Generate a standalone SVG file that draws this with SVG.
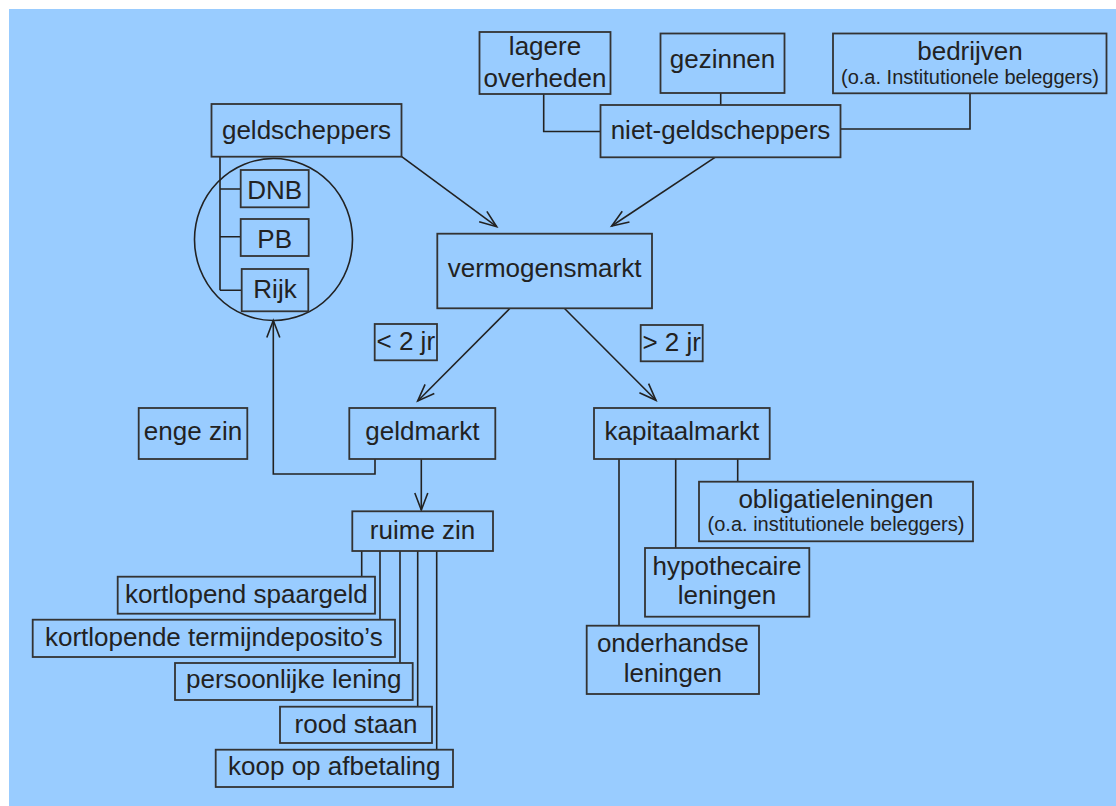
<svg xmlns="http://www.w3.org/2000/svg" width="1116" height="806" viewBox="0 0 1116 806">
<style>
.box{fill:#99CCFF;stroke:#333;stroke-width:1.8}
.t{font-family:"Liberation Sans",Arial,sans-serif;font-size:26px;fill:#222;text-anchor:middle}
.s{font-size:20px}
.c{fill:none;stroke:#222;stroke-width:1.6}
</style>
<defs>
<marker id="ah" markerUnits="userSpaceOnUse" markerWidth="22" markerHeight="18" viewBox="-19 -9 22 18" refX="0" refY="0" orient="auto">
<path d="M-17,-6.5 L0,0 L-17,6.5" fill="none" stroke="#222" stroke-width="1.6"/>
</marker>
</defs>
<rect x="9" y="9" width="1107" height="797" fill="#99CCFF"/>
<g id="connectors">
<path class="c" d="M543.7,94 V131.5 H600.5"/>
<path class="c" d="M720.7,93 V105"/>
<path class="c" d="M970,93.3 V129 H840.5"/>
<path class="c" d="M220,156.7 V290.3 M220,189 H240.7 M220,236.7 H240.7 M220,290.3 H241.7"/>
<path class="c" d="M401.7,156.7 L496.7,226.7" marker-end="url(#ah)"/>
<path class="c" d="M715,157.3 L611.7,226" marker-end="url(#ah)"/>
<path class="c" d="M510,308.3 L417.7,401" marker-end="url(#ah)"/>
<path class="c" d="M564.3,308.3 L656,400.3" marker-end="url(#ah)"/>
<path class="c" d="M375,459 V474 H273.3 V320.5" marker-end="url(#ah)"/>
<path class="c" d="M421.3,459 V510" marker-end="url(#ah)"/>
<path class="c" d="M361.7,551 V576.7 M380,551 V619.7 M400,551 V663 M417.7,551 V706.7 M436.7,551 V749.7"/>
<path class="c" d="M619,459 V625.7 M675.7,459 V548 M737.7,459 V481.7"/>
</g>
<g id="lagere-overheden"><rect class="box" x="479.5" y="32" width="131" height="62"/><text class="t" x="545" y="54.5">lagere</text><text class="t" x="545" y="86.5">overheden</text></g>
<g id="gezinnen"><rect class="box" x="660.5" y="33.5" width="124" height="59.5"/><text class="t" x="722.5" y="68">gezinnen</text></g>
<g id="bedrijven"><rect class="box" x="833" y="33.5" width="273.5" height="59.8"/><text class="t" x="970" y="59.5">bedrijven</text><text class="t s" x="970" y="83.5">(o.a. Institutionele beleggers)</text></g>
<g id="niet-geldscheppers"><rect class="box" x="600.5" y="105" width="240" height="52.3"/><text class="t" x="720.5" y="139">niet-geldscheppers</text></g>
<g id="geldscheppers"><rect class="box" x="211.5" y="104" width="190" height="52.7"/><text class="t" x="306.5" y="139">geldscheppers</text></g>
<g id="circle"><ellipse cx="273.5" cy="239.5" rx="79" ry="81" fill="none" stroke="#222" stroke-width="1.6"/></g>
<g id="dnb"><rect class="box" x="240.7" y="170" width="68" height="37.3"/><text class="t" x="274.7" y="198.5">DNB</text></g>
<g id="pb"><rect class="box" x="240.7" y="219" width="68" height="37"/><text class="t" x="274.7" y="247.5">PB</text></g>
<g id="rijk"><rect class="box" x="241.7" y="269" width="66.6" height="42.3"/><text class="t" x="275" y="298">Rijk</text></g>
<g id="vermogensmarkt"><rect class="box" x="437.3" y="233.7" width="214.7" height="74.6"/><text class="t" x="544.6" y="277">vermogensmarkt</text></g>
<g id="lt2jr"><rect class="box" x="374.7" y="324" width="62.3" height="36.3"/><text class="t" x="405.8" y="350">&lt; 2 jr</text></g>
<g id="gt2jr"><rect class="box" x="640.7" y="325" width="62" height="36.3"/><text class="t" x="671.7" y="350.7">&gt; 2 jr</text></g>
<g id="enge-zin"><rect class="box" x="138.7" y="408" width="108.6" height="51"/><text class="t" x="193" y="440">enge zin</text></g>
<g id="geldmarkt"><rect class="box" x="349.3" y="408" width="146" height="51"/><text class="t" x="422.3" y="440">geldmarkt</text></g>
<g id="kapitaalmarkt"><rect class="box" x="594" y="408" width="175.7" height="51"/><text class="t" x="681.8" y="439.5">kapitaalmarkt</text></g>
<g id="ruime-zin"><rect class="box" x="352.3" y="511.3" width="140.7" height="39.7"/><text class="t" x="422.6" y="539">ruime zin</text></g>
<g id="kortlopend-spaargeld"><rect class="box" x="117.7" y="576.7" width="257.3" height="37"/><text class="t" x="246.3" y="603.3">kortlopend spaargeld</text></g>
<g id="termijndepositos"><rect class="box" x="32.7" y="619.7" width="362.3" height="37.3"/><text class="t" x="213.8" y="646">kortlopende termijndeposito’s</text></g>
<g id="persoonlijke-lening"><rect class="box" x="175" y="663" width="237.7" height="37"/><text class="t" x="293.8" y="688.3">persoonlijke lening</text></g>
<g id="rood-staan"><rect class="box" x="280" y="706.7" width="152" height="36.3"/><text class="t" x="356" y="732.7">rood staan</text></g>
<g id="koop-op-afbetaling"><rect class="box" x="215.7" y="749.7" width="237.3" height="37.3"/><text class="t" x="334.3" y="775">koop op afbetaling</text></g>
<g id="obligatieleningen"><rect class="box" x="699" y="481.7" width="274" height="59.6"/><text class="t" x="836" y="508">obligatieleningen</text><text class="t s" x="836" y="531">(o.a. institutionele beleggers)</text></g>
<g id="hypothecaire-leningen"><rect class="box" x="645" y="548" width="164.3" height="68.7"/><text class="t" x="727" y="575">hypothecaire</text><text class="t" x="727" y="604">leningen</text></g>
<g id="onderhandse-leningen"><rect class="box" x="586.7" y="625.7" width="172.3" height="68.3"/><text class="t" x="672.8" y="651.7">onderhandse</text><text class="t" x="672.8" y="681.7">leningen</text></g>
</svg>
